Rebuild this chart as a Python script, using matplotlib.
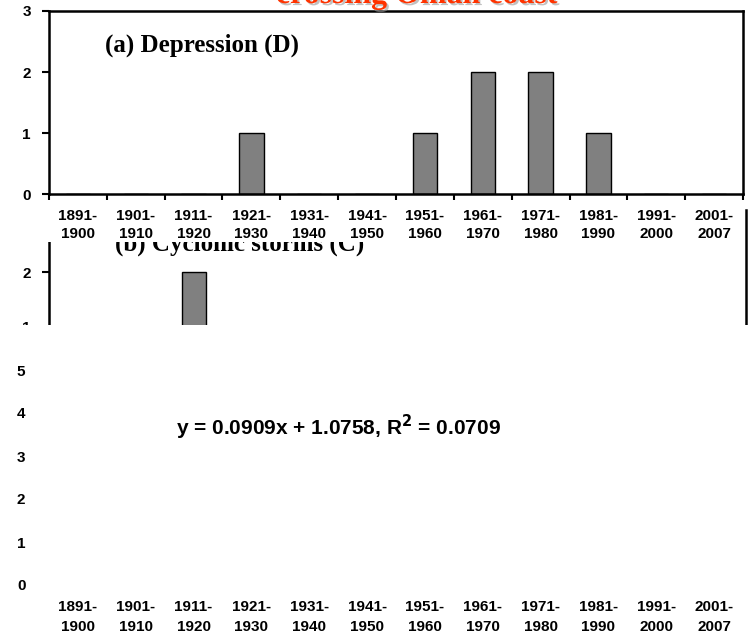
import numpy as np
import matplotlib
matplotlib.use("Agg")
import matplotlib.pyplot as plt
from matplotlib.patches import Rectangle
from matplotlib import patheffects as pe
from matplotlib.transforms import blended_transform_factory

# Decadal periods and counts
periods = ["1891-\n1900", "1901-\n1910", "1911-\n1920", "1921-\n1930", "1931-\n1940",
           "1941-\n1950", "1951-\n1960", "1961-\n1970", "1971-\n1980", "1981-\n1990",
           "1991-\n2000", "2001-\n2007"]
depressions = [0, 0, 0, 1, 0, 0, 1, 2, 2, 1, 0, 0]
cyclonic_storms = [0, 0, 2, 0, 0, 0, 0, 0, 0, 0, 0, 0]
trend_label = "y = 0.0909x + 1.0758, R$^{\\mathbf{2}}$ = 0.0709"
title_text = "crossing Oman coast"

W, H = 752, 635
fig = plt.figure(figsize=(W / 100, H / 100), dpi=100)

SANS = "Liberation Sans"
SERIF = "Liberation Serif"
TICK_FS = 11


def rect(x0, y0, x1, y1):
    """Axes rectangle from pixel box (top-left origin)."""
    return [x0 / W, 1 - y1 / H, (x1 - x0) / W, (y1 - y0) / H]


x = np.arange(len(periods))
bar_w = 0.42


def period_labels(ax, y_rows):
    """Two-row period labels under an axes; rows at given pixel heights."""
    tr = blended_transform_factory(ax.transData, fig.transFigure)
    for xi, lab in zip(x, periods):
        for row, part in zip(y_rows, lab.split("\n")):
            ax.text(xi, 1 - row / H, part, transform=tr, ha="center", va="center",
                    fontfamily=SANS, fontweight="bold", fontsize=TICK_FS, clip_on=False)


def style_bar_axes(ax):
    ax.set_xlim(-0.5, len(periods) - 0.5)
    for s in ax.spines.values():
        s.set_linewidth(1.8)
        s.set_color("black")
    ax.set_xticks(np.arange(len(periods) + 1) - 0.5)
    ax.set_xticklabels([])
    ax.tick_params(axis="x", direction="out", length=4, width=1.5)
    ax.tick_params(axis="y", direction="out", length=5, width=1.5, pad=8)
    for t in ax.get_yticklabels():
        t.set_fontfamily(SANS)
        t.set_fontweight("bold")
        t.set_fontsize(TICK_FS)


# Panel (b): cyclonic storms
axB = fig.add_axes(rect(49, 210, 746, 382))
axB.set_zorder(1)
axB.bar(x, cyclonic_storms, width=bar_w, color="#808080", edgecolor="black", linewidth=1.0)
axB.set_ylim(0, 2 + (272 - 210) / 55)
axB.set_yticks([0, 1, 2, 3])
style_bar_axes(axB)
axB.spines["top"].set_visible(False)
axB.spines["bottom"].set_visible(False)
axB.text(115 / W, 1 - 251 / H, "(b) Cyclonic storms (C)", transform=fig.transFigure,
         fontfamily=SERIF, fontweight="bold", fontsize=18, va="baseline", ha="left")

# White sheet over the top of panel (b)
fig.add_artist(Rectangle((0, 1 - 242 / H), 741 / W, 242 / H, transform=fig.transFigure,
                         facecolor="white", edgecolor="none", zorder=2))

# Panel (a): depressions
axA = fig.add_axes(rect(49, 11, 743, 194))
axA.set_zorder(3)
axA.bar(x, depressions, width=bar_w, color="#808080", edgecolor="black", linewidth=1.0)
axA.set_ylim(0, 3)
axA.set_yticks([0, 1, 2, 3])
style_bar_axes(axA)
period_labels(axA, (216, 234))
axA.text(105 / W, 1 - 52 / H, "(a) Depression (D)", transform=fig.transFigure,
         fontfamily=SERIF, fontweight="bold", fontsize=18, va="baseline", ha="left")

# White sheet over the lower part of panel (b)
fig.add_artist(Rectangle((0, 0), 1, 1 - 325 / H, transform=fig.transFigure,
                         facecolor="white", edgecolor="none", zorder=4))

# Bottom panel: trend axes
axC = fig.add_axes(rect(49, 370, 743, 585))
axC.set_zorder(5)
axC.patch.set_visible(False)
axC.set_xlim(-0.5, len(periods) - 0.5)
axC.set_ylim(0, 5)
for s in axC.spines.values():
    s.set_visible(False)
axC.set_yticks(range(6))
axC.set_yticklabels([str(v) for v in range(6)], fontfamily=SANS, fontweight="bold", fontsize=TICK_FS)
axC.set_xticks([])
axC.tick_params(axis="y", length=0, pad=17)
period_labels(axC, (607, 627))
axC.text(339 / W, 1 - 427 / H, trend_label, transform=fig.transFigure,
         fontfamily=SANS, fontweight="bold", fontsize=15, ha="center", va="center")

# Title, mostly above the top edge
fig.text(417 / W, 1 - 3 / H, title_text, fontfamily=SERIF, fontweight="bold",
         fontsize=23, color="#FF3300", ha="center", va="baseline", zorder=10,
         path_effects=[pe.withSimplePatchShadow(offset=(1.5, -1.5), shadow_rgbFace="#999999", alpha=0.6)])

fig.savefig("out.png", dpi=100)
